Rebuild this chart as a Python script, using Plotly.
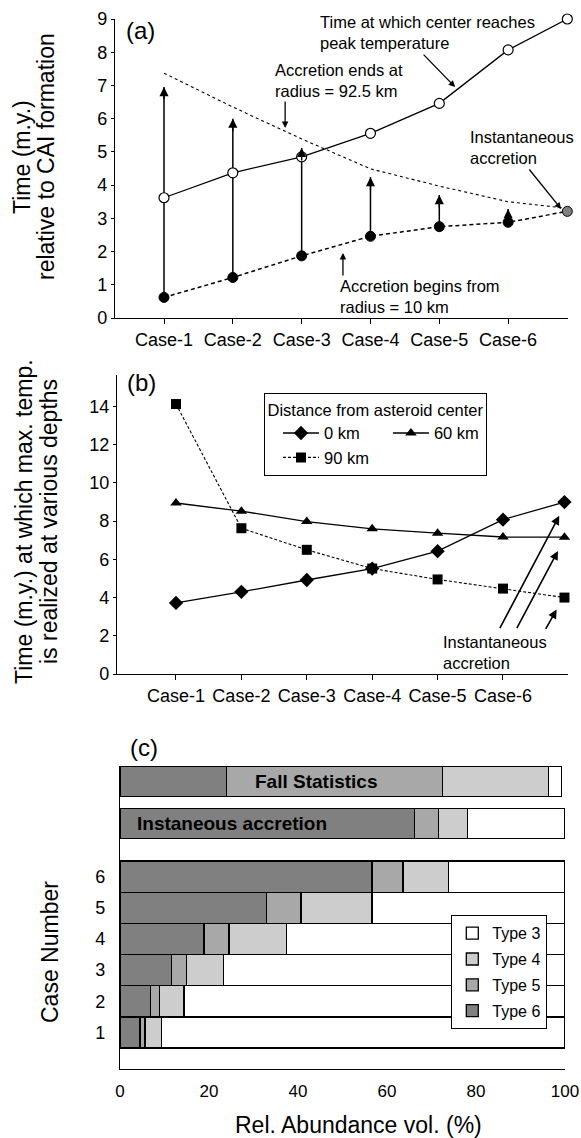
import plotly.graph_objects as go

W, H = 581, 1138
FONT = "Liberation Sans, Arial, Helvetica, sans-serif"

# ---------------- data ----------------
cases = ["Case-1", "Case-2", "Case-3", "Case-4", "Case-5", "Case-6"]

# panel (a): last value of each full series = instantaneous accretion
peak_center = [3.62, 4.37, 4.85, 5.56, 6.46, 8.07, 9.0]
acc_begin = [0.62, 1.22, 1.87, 2.46, 2.75, 2.88, 3.21]
acc_end = [7.37, 6.35, 5.39, 4.49, 3.97, 3.50, 3.30]
arrow_top = [6.95, 6.00, 5.12, 4.24, 3.70, 3.28]

# panel (b): last value = instantaneous accretion
depth_labels = ["0 km", "60 km", "90 km"]
t_0km = [3.72, 4.30, 4.92, 5.52, 6.43, 8.08, 9.00]
t_60km = [8.95, 8.52, 7.98, 7.60, 7.37, 7.17, 7.16]
t_90km = [14.13, 7.63, 6.50, 5.52, 4.95, 4.47, 4.00]

# panel (c): relative abundance vol. (%)
rows = ["1", "2", "3", "4", "5", "6", "Instaneous accretion", "Fall Statistics"]
type_names = ["Type 6", "Type 5", "Type 4", "Type 3"]
type6 = [4.5, 6.9, 11.5, 18.9, 32.9, 56.6, 66.1, 23.9]
type5 = [1.1, 2.0, 3.4, 5.6, 7.8, 7.0, 5.4, 48.5]
type4 = [3.7, 5.5, 8.4, 12.9, 15.9, 10.2, 6.6, 23.9]
type3 = [90.7, 85.6, 76.7, 62.6, 43.4, 26.2, 21.9, 2.9]

# ---------------- layout helpers (positions) ----------------
def px(x):
    return x / W


def py(y):
    return 1 - y / H


case_x = [1, 2, 3, 4, 5, 6]
xa = case_x + [6.86]
xb = case_x + [6.94]
row_pos = [1, 2, 3, 4, 5, 6, 7.71, 9.06]
row_w = [1, 1, 1, 1, 1, 1, 0.96, 0.96]

fig = go.Figure()

# ---------------- panel (a) ----------------
fig.add_trace(go.Scatter(x=xa, y=acc_end, mode="lines", xaxis="x", yaxis="y",
                         line=dict(color="black", width=1.1, dash="3px,3px"),
                         showlegend=False, cliponaxis=False))
sx, sy = [], []
for c, b, t in zip(case_x, acc_begin, arrow_top):
    sx += [c, c, None]
    sy += [b, t, None]
fig.add_trace(go.Scatter(x=sx, y=sy, mode="lines", xaxis="x", yaxis="y",
                         line=dict(color="black", width=1.5),
                         showlegend=False, cliponaxis=False))
fig.add_trace(go.Scatter(x=xa, y=peak_center, mode="lines+markers", xaxis="x", yaxis="y",
                         line=dict(color="black", width=1.3),
                         marker=dict(symbol="circle", size=10, color="white",
                                     line=dict(color="black", width=1.2)),
                         showlegend=False, cliponaxis=False))
fig.add_trace(go.Scatter(x=xa, y=acc_begin, mode="lines+markers", xaxis="x", yaxis="y",
                         line=dict(color="black", width=1.5, dash="4px,3px"),
                         marker=dict(symbol="circle", size=10,
                                     color=["black"] * 6 + ["#808080"],
                                     line=dict(color="black", width=1)),
                         showlegend=False, cliponaxis=False))

# ---------------- panel (b) ----------------
fig.add_trace(go.Scatter(x=xb, y=t_0km, name=depth_labels[0], mode="lines+markers",
                         xaxis="x2", yaxis="y2", legend="legend", legendgroup="ga",
                         line=dict(color="black", width=1.3),
                         marker=dict(symbol="diamond", size=11, color="black"),
                         cliponaxis=False))
fig.add_trace(go.Scatter(x=xb, y=t_60km, name=depth_labels[1], mode="lines+markers",
                         xaxis="x2", yaxis="y2", legend="legend", legendgroup="gb",
                         line=dict(color="black", width=1.3),
                         marker=dict(symbol="triangle-up", size=10, color="black"),
                         cliponaxis=False))
fig.add_trace(go.Scatter(x=xb, y=t_90km, name=depth_labels[2], mode="lines+markers",
                         xaxis="x2", yaxis="y2", legend="legend", legendgroup="ga",
                         line=dict(color="black", width=1.1, dash="3px,2px"),
                         marker=dict(symbol="square", size=10, color="black"),
                         cliponaxis=False))

# ---------------- panel (c) ----------------
bar_colors = ["#808080", "#a8a8a8", "#cdcdcd", "#ffffff"]
ranks = [4, 3, 2, 1]
for name, vals, col, rk in zip(type_names, [type6, type5, type4, type3], bar_colors, ranks):
    fig.add_trace(go.Bar(y=row_pos, x=vals, width=row_w, orientation="h", name=name,
                         xaxis="x3", yaxis="y3", legend="legend2", legendgroup=name,
                         legendrank=rk,
                         marker=dict(color=col, line=dict(color="black", width=1.3)),
                         cliponaxis=False))

# ---------------- annotations ----------------
ann = []
for c, t in zip(case_x, arrow_top):
    ann.append(dict(x=c, y=t, xref="x", yref="y", ax=0, ay=14, text="",
                    showarrow=True, arrowhead=2, arrowsize=1.3, arrowwidth=1.4,
                    arrowcolor="black", standoff=0))


def txt(text, x, y, size=16.5, xanchor="left", yanchor="middle", angle=0, align="left"):
    return dict(text=text, x=px(x), y=py(y), xref="paper", yref="paper",
                xanchor=xanchor, yanchor=yanchor, showarrow=False, textangle=angle,
                align=align, font=dict(size=size, color="black", family=FONT))


ann += [
    txt("(a)", 124, 31, size=24),
    txt("Time at which center reaches<br>peak temperature", 318, 32),
    txt("Accretion ends at<br>radius = 92.5 km", 273, 81),
    txt("Instantaneous<br>accretion", 468, 147),
    txt("Accretion begins from<br>radius = 10 km", 338, 296),
    txt("Time (m.y.)", 22, 157, size=23, xanchor="center", angle=-90),
    txt("relative to CAI formation", 46, 157, size=23, xanchor="center", angle=-90),
    txt("(b)", 125, 383, size=24),
    txt("Instantaneous<br>accretion", 441, 652),
    txt("Time (m.y.) at which max. temp.", 24, 522, size=23, xanchor="center", angle=-90),
    txt("is realized at various depths", 49, 522, size=23, xanchor="center", angle=-90),
    txt("(c)", 128, 747, size=24),
    txt("Case Number", 50, 952, size=23, xanchor="center", angle=-90),
    txt("Rel. Abundance vol. (%)", 358, 1125, size=23, xanchor="center"),
]

# text arrows in (a)
for x, y, ax, ay in [(5.23, 6.95, -33, -34), (2.76, 5.72, 0, -28),
                     (3.60, 1.96, 0, 24), (6.77, 3.28, -33, -41)]:
    ann.append(dict(x=x, y=y, xref="x", yref="y", ax=ax, ay=ay, text="",
                    showarrow=True, arrowhead=2, arrowsize=1.0, arrowwidth=1.3,
                    arrowcolor="black", standoff=0))

# text arrows in (b)
for x, y, ax, ay in [(6.86, 8.28, 5.94, 2.32), (6.84, 6.44, 6.20, 2.32),
                     (6.82, 3.37, 6.64, 2.28)]:
    ann.append(dict(x=x, y=y, xref="x2", yref="y2", ax=ax, ay=ay, axref="x2", ayref="y2",
                    text="", showarrow=True, arrowhead=2, arrowsize=1.1, arrowwidth=1.6,
                    arrowcolor="black", standoff=0))

# bar labels in (c)
ann.append(dict(x=29.8, y=row_pos[7], xref="x3", yref="y3", text="<b>Fall Statistics</b>",
                showarrow=False, xanchor="left", yanchor="middle",
                font=dict(size=19, color="black", family=FONT)))
ann.append(dict(x=3.3, y=row_pos[6], xref="x3", yref="y3", text="<b>Instaneous accretion</b>",
                showarrow=False, xanchor="left", yanchor="middle",
                font=dict(size=19, color="black", family=FONT)))

ax_common = dict(showline=True, linecolor="black", linewidth=1.3, showgrid=False,
                 zeroline=False, tickcolor="black", tickwidth=1.3, automargin=False,
                 tickfont=dict(size=18, color="black", family=FONT))

fig.update_layout(
    width=W, height=H, margin=dict(l=0, r=0, t=0, b=0, pad=0, autoexpand=False),
    paper_bgcolor="white", plot_bgcolor="white",
    font=dict(family=FONT, color="black"),
    barmode="stack",
    xaxis=dict(ax_common, domain=[px(115), px(568)], anchor="y", range=[0.288, 6.87],
               tickvals=case_x, ticktext=cases, ticks="outside", ticklen=5),
    yaxis=dict(ax_common, domain=[py(318), py(19)], anchor="x", range=[0, 9],
               tick0=0, dtick=1, ticks="outside", ticklen=3),
    xaxis2=dict(ax_common, domain=[px(117), px(568)], anchor="y2", range=[0.098, 6.994],
                tickvals=case_x, ticktext=cases, ticks="outside", ticklen=5),
    yaxis2=dict(ax_common, domain=[py(674), py(375)], anchor="x2", range=[0, 15.65],
                tick0=0, dtick=2, ticks="outside", ticklen=3),
    xaxis3=dict(ax_common, domain=[px(120), px(565)], anchor="y3", range=[0, 100],
                tick0=0, dtick=20, ticks="outside", ticklen=6,
                tickcolor="rgba(0,0,0,0)", tickfont=dict(size=17, color="black", family=FONT)),
    yaxis3=dict(ax_common, domain=[py(1069), py(766)], anchor="x3", range=[-0.17, 9.55],
                tickvals=row_pos[:6], ticktext=rows[:6], ticks="outside", ticklen=10,
                tickcolor="rgba(0,0,0,0)"),
    legend=dict(x=px(264), y=py(393), xanchor="left", yanchor="top",
                orientation="h", traceorder="grouped",
                title=dict(text="Distance from asteroid center", side="top center",
                           font=dict(size=16.5, color="black", family=FONT)),
                font=dict(size=16.5, color="black", family=FONT),
                bordercolor="black", borderwidth=1.3, bgcolor="white",
                itemwidth=36, indentation=14),
    legend2=dict(x=px(451), y=py(915), xanchor="left", yanchor="top",
                 orientation="v", traceorder="grouped", tracegroupgap=2,
                 font=dict(size=16, color="black", family=FONT),
                 bordercolor="black", borderwidth=1.3, bgcolor="white",
                 itemwidth=30),
    annotations=ann,
    showlegend=True,
)

fig.write_html("out.html",
               config={"displayModeBar": False},
               post_script="document.body.style.margin='0px';"
                           "document.body.style.padding='0px';"
                           "document.body.style.overflow='hidden';")
